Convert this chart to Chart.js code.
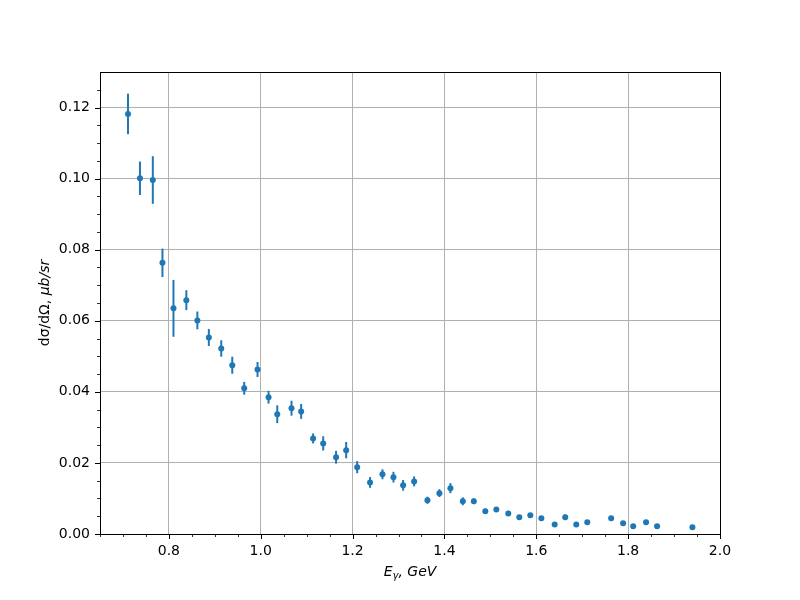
<!DOCTYPE html>
<html>
<head>
<meta charset="utf-8">
<script src="https://cdn.jsdelivr.net/npm/chart.js@4"></script>
<style>
  html, body { margin: 0; padding: 0; background: #ffffff; }
  #wrap { width: 800px; height: 600px; }
</style>
</head>
<body>
<div id="wrap"><canvas id="c" width="800" height="600"></canvas></div>
<script>
// ---- data ----
const energies = [0.711,0.737,0.765,0.786,0.810,0.838,0.862,0.887,0.914,0.938,
                  0.964,0.993,1.017,1.036,1.067,1.088,1.114,1.136,1.164,1.186,
                  1.210,1.238,1.265,1.289,1.310,1.334,1.363,1.389,1.413,1.440,
                  1.464,1.489,1.513,1.539,1.563,1.587,1.611,1.640,1.663,1.687,
                  1.711,1.763,1.789,1.811,1.839,1.863,1.940];
const crossSection = [0.1182,0.1001,0.0996,0.0763,0.0635,0.0658,0.0601,0.0553,0.0522,0.0475,
                      0.0410,0.0463,0.0385,0.0337,0.0354,0.0345,0.0269,0.0255,0.0216,0.0236,
                      0.0188,0.0145,0.0168,0.0160,0.0137,0.0148,0.0095,0.0115,0.0129,0.0092,
                      0.0092,0.0064,0.0069,0.0058,0.0047,0.0053,0.0044,0.0027,0.0047,0.0027,
                      0.0033,0.0044,0.0030,0.0022,0.0033,0.0022,0.0019];
const crossSectionErr = [0.0057,0.0047,0.0067,0.0040,0.0080,0.0028,0.0025,0.0024,0.0023,0.0024,
                         0.0018,0.0021,0.0018,0.0025,0.0021,0.0021,0.0014,0.0020,0.0018,0.0023,
                         0.0017,0.0015,0.0014,0.0015,0.0015,0.0014,0.0010,0.0011,0.0014,0.0011,
                         0.0008,0.0007,0.0006,0.0007,0.0005,0.0006,0.0006,0.0004,0.0008,0.0004,
                         0.0006,0.0006,0.0006,0.0004,0.0006,0.0004,0.0004];

const xMajorTicks = [0.8, 1.0, 1.2, 1.4, 1.6, 1.8, 2.0];
const xTickLabels = ['0.8', '1.0', '1.2', '1.4', '1.6', '1.8', '2.0'];
const yMajorTicks = [0, 0.02, 0.04, 0.06, 0.08, 0.10, 0.12];
const yTickLabels = ['0.00', '0.02', '0.04', '0.06', '0.08', '0.10', '0.12'];
const xMinorTicks = [0.65,0.70,0.75,0.85,0.90,0.95,1.05,1.10,1.15,1.25,1.30,1.35,1.45,1.50,1.55,1.65,1.70,1.75,1.85,1.90,1.95];
const yMinorTicks = [0.005,0.010,0.015,0.025,0.030,0.035,0.045,0.050,0.055,0.065,0.070,0.075,0.085,0.090,0.095,0.105,0.110,0.115,0.125];

const xTitleMain = 'E';
const xTitleSub = 'γ';
const xTitleRest = ', GeV';
const yTitleUpright = 'dσ/dΩ, ';
const yTitleItalic = 'μb/sr';

const COLOR = '#1f77b4';
const FONT = '"DejaVu Sans", sans-serif';

const points = energies.map((e, i) => ({ x: e, y: crossSection[i] }));

const errorBarPlugin = {
  id: 'errorBars',
  beforeDatasetsDraw(chart) {
    const ctx = chart.ctx, xs = chart.scales.x, ys = chart.scales.y;
    ctx.save();
    ctx.strokeStyle = COLOR;
    ctx.lineWidth = 2;
    energies.forEach((e, i) => {
      const px = xs.getPixelForValue(e);
      const y1 = ys.getPixelForValue(crossSection[i] - crossSectionErr[i]);
      const y2 = ys.getPixelForValue(crossSection[i] + crossSectionErr[i]);
      ctx.beginPath();
      ctx.moveTo(px, y1);
      ctx.lineTo(px, y2);
      ctx.stroke();
    });
    ctx.restore();
  }
};

const framePlugin = {
  id: 'frame',
  afterDraw(chart) {
    const ctx = chart.ctx, a = chart.chartArea, xs = chart.scales.x, ys = chart.scales.y;
    ctx.save();
    ctx.strokeStyle = '#000000';
    // ticks
    ctx.lineWidth = 1;
    xMajorTicks.forEach(v => {
      const p = Math.round(xs.getPixelForValue(v)) + 0.5;
      ctx.beginPath(); ctx.moveTo(p, a.bottom); ctx.lineTo(p, a.bottom + 5); ctx.stroke();
    });
    yMajorTicks.forEach(v => {
      const p = Math.round(ys.getPixelForValue(v)) + 0.5;
      ctx.beginPath(); ctx.moveTo(a.left, p); ctx.lineTo(a.left - 5, p); ctx.stroke();
    });
    ctx.lineWidth = 0.8;
    xMinorTicks.forEach(v => {
      const p = Math.round(xs.getPixelForValue(v)) + 0.5;
      ctx.beginPath(); ctx.moveTo(p, a.bottom); ctx.lineTo(p, a.bottom + 3); ctx.stroke();
    });
    yMinorTicks.forEach(v => {
      const p = Math.round(ys.getPixelForValue(v)) + 0.5;
      ctx.beginPath(); ctx.moveTo(a.left, p); ctx.lineTo(a.left - 3, p); ctx.stroke();
    });
    // frame
    ctx.lineWidth = 1;
    ctx.strokeRect(Math.round(a.left) + 0.5, Math.round(a.top) + 0.5,
                   Math.round(a.right - a.left), Math.round(a.bottom - a.top));
    // axis titles
    ctx.fillStyle = '#000000';
    ctx.textBaseline = 'alphabetic';
    const cx = (a.left + a.right) / 2;
    const fMain = 'italic 14px ' + FONT, fSub = 'italic 10px ' + FONT;
    ctx.font = fMain; const w1 = ctx.measureText(xTitleMain).width;
    const w3 = ctx.measureText(xTitleRest).width;
    ctx.font = fSub; const w2 = ctx.measureText(xTitleSub).width;
    let x0 = cx - (w1 + w2 + w3) / 2;
    const by = 576;
    ctx.textAlign = 'left';
    ctx.font = fMain; ctx.fillText(xTitleMain, x0, by); x0 += w1;
    ctx.font = fSub; ctx.fillText(xTitleSub, x0, by + 3); x0 += w2;
    ctx.font = fMain; ctx.fillText(xTitleRest, x0, by);

    ctx.translate(49, (a.top + a.bottom) / 2);
    ctx.rotate(-Math.PI / 2);
    const fUp = '14px ' + FONT, fIt = 'italic 14px ' + FONT;
    ctx.font = fUp; const u1 = ctx.measureText(yTitleUpright).width;
    ctx.font = fIt; const u2 = ctx.measureText(yTitleItalic).width;
    let yx = -(u1 + u2) / 2;
    ctx.font = fUp; ctx.fillText(yTitleUpright, yx, 0); yx += u1;
    ctx.font = fIt; ctx.fillText(yTitleItalic, yx, 0);
    ctx.restore();
  }
};

new Chart(document.getElementById('c'), {
  type: 'scatter',
  data: {
    datasets: [{
      data: points,
      pointRadius: 3,
      pointHoverRadius: 3,
      pointBackgroundColor: COLOR,
      pointBorderWidth: 0,
      showLine: false
    }]
  },
  options: {
    responsive: false,
    animation: false,
    layout: { padding: { left: 0, top: 72, right: 80, bottom: 0 } },
    plugins: { legend: { display: false }, tooltip: { enabled: false } },
    scales: {
      x: {
        type: 'linear',
        min: 0.65,
        max: 2.0,
        afterBuildTicks: s => { s.ticks = xMajorTicks.map(v => ({ value: v })); },
        afterFit: s => { s.height = 66; },
        ticks: {
          autoSkip: false,
          maxRotation: 0,
          padding: 9,
          color: '#000000',
          font: { family: 'DejaVu Sans', size: 14 },
          callback: (v) => xTickLabels[xMajorTicks.findIndex(t => Math.abs(t - v) < 1e-9)]
        },
        grid: { color: '#b0b0b0', lineWidth: 1, drawTicks: false },
        border: { display: false }
      },
      y: {
        type: 'linear',
        min: 0,
        max: 0.13,
        afterBuildTicks: s => { s.ticks = yMajorTicks.map(v => ({ value: v })); },
        afterFit: s => { s.width = 100; },
        ticks: {
          autoSkip: false,
          padding: 10,
          color: '#000000',
          font: { family: 'DejaVu Sans', size: 14 },
          callback: (v) => yTickLabels[yMajorTicks.findIndex(t => Math.abs(t - v) < 1e-9)]
        },
        grid: { color: '#b0b0b0', lineWidth: 1, drawTicks: false },
        border: { display: false }
      }
    }
  },
  plugins: [errorBarPlugin, framePlugin]
});
</script>
</body>
</html>
